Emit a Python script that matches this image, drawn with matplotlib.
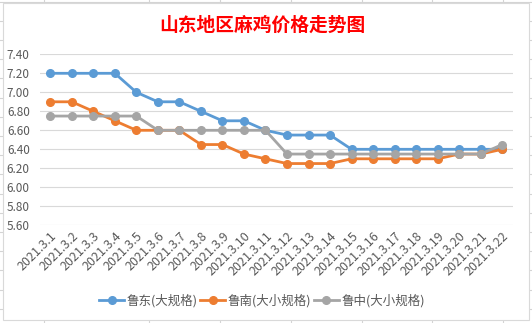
import numpy as np
import matplotlib.pyplot as plt
from matplotlib.patches import Rectangle

plt.rcParams['font.family'] = ['Noto Sans CJK SC', 'DejaVu Sans']

dates = ['2021.3.%d' % d for d in range(1, 23)]
ludong = [7.2, 7.2, 7.2, 7.2, 7.0, 6.9, 6.9, 6.8, 6.7, 6.7, 6.6,
          6.55, 6.55, 6.55, 6.4, 6.4, 6.4, 6.4, 6.4, 6.4, 6.4, 6.4]
lunan = [6.9, 6.9, 6.8, 6.7, 6.6, 6.6, 6.6, 6.45, 6.45, 6.35, 6.3,
         6.25, 6.25, 6.25, 6.3, 6.3, 6.3, 6.3, 6.3, 6.35, 6.35, 6.4]
luzhong = [6.75, 6.75, 6.75, 6.75, 6.75, 6.6, 6.6, 6.6, 6.6, 6.6, 6.6,
           6.35, 6.35, 6.35, 6.35, 6.35, 6.35, 6.35, 6.35, 6.35, 6.35, 6.45]
series = [('鲁东(大规格)', ludong, '#5B9BD5'),
          ('鲁南(大小规格)', lunan, '#ED7D31'),
          ('鲁中(大小规格)', luzhong, '#A5A5A5')]

W, H = 532, 323
fig = plt.figure(figsize=(W / 100, H / 100), dpi=100)

# spreadsheet cells behind the chart
bg = fig.add_axes([0, 0, 1, 1])
bg.set_xlim(0, W)
bg.set_ylim(H, 0)
bg.axis('off')
for x in [44, 149, 220, 291, 362, 432, 503]:
    bg.plot([x, x], [0, H], color='#D4D4D4', lw=0.8)
for y in np.arange(1.6, H, 19.2):
    bg.plot([0, W], [y, y], color='#D4D4D4', lw=0.8)
bg.add_patch(Rectangle((3, 3), 526, 317, facecolor='white',
                       edgecolor='#D9D9D9', lw=0.8, zorder=5))

ax = fig.add_axes([39.5 / W, (H - 225.3) / H, (513 - 39.5) / W, (225.3 - 54.3) / H])
ax.set_facecolor('none')
x = np.arange(len(dates))
for name, vals, c in series:
    ax.plot(x, vals, color=c, lw=2.0, marker='o', markersize=5.5, label=name)

ax.set_xlim(-0.5, len(dates) - 0.5)
ax.set_ylim(5.6, 7.4)
ax.set_yticks(np.arange(5.6, 7.41, 0.2))
ax.set_yticklabels(['%.2f' % v for v in np.arange(5.6, 7.41, 0.2)])
ax.set_xticks(x)
ax.set_xticklabels(dates, rotation=45, ha='right', rotation_mode='anchor')
ax.tick_params(length=0, labelsize=8.5, colors='#595959')
ax.tick_params(axis='x', labelsize=9, pad=3)
ax.tick_params(axis='y', pad=7)
ax.grid(axis='y', color='#D9D9D9', lw=0.8)
ax.set_axisbelow(True)
for s in ax.spines.values():
    s.set_visible(False)

fig.text(262 / W, 1 - 25 / H, '山东地区麻鸡价格走势图', color='red', fontsize=13.5,
         fontweight='bold', ha='center', va='center')

ax.legend(loc='center', bbox_to_anchor=((262 - 39.5) / (513 - 39.5), (225.3 - 301) / (225.3 - 54.3)),
          ncol=3, frameon=False, fontsize=9, handlelength=2.0, handletextpad=0.2,
          columnspacing=0.2, labelcolor='#595959')

fig.savefig('out.png', dpi=100)
